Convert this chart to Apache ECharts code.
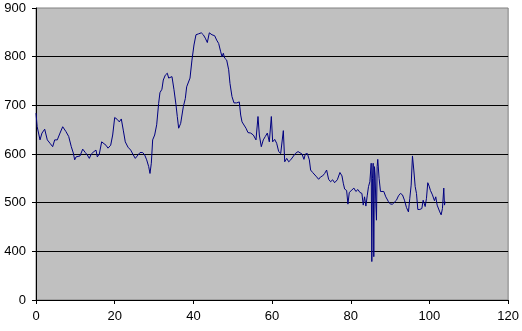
<!DOCTYPE html>
<html>
<head>
    <meta charset='utf-8'/>
    <title>Line chart</title>
    <style>
        body {
            margin: 0;
            padding: 0;
            background: #fff;
        }

        #chart {
            width: 522px;
            height: 331px;
        }
    </style>
    <script src="https://cdn.jsdelivr.net/npm/echarts@6/dist/echarts.min.js"></script>
</head>
<body>
<div id='chart'></div>
<script type="text/javascript">
    // values
    var xs = [0, 0.3, 1.02, 1.52, 2.21, 2.87, 3.56, 4.24, 4.75, 5.41, 6.1, 6.79, 7.62, 8.31, 8.97, 9.48, 9.83, 10.17, 10.5, 11.18,
        11.87, 12.53, 13.04, 13.55, 14.05, 14.74, 15.25, 15.58, 16.09, 16.26, 16.69, 17.1, 17.79, 18.3, 18.98, 19.49, 20.0, 20.66, 21.17, 21.68,
        22.18, 22.69, 23.38, 24.07, 24.73, 25.24, 25.92, 26.43, 27.11, 27.62, 28.13, 28.64, 28.97, 29.31, 29.65, 30.16, 30.67, 31.17, 31.5, 32.0,
        32.35, 32.86, 33.37, 33.72, 33.97, 34.56, 35.07, 35.58, 35.91, 36.26, 36.77, 37.44, 37.95, 38.29, 38.63, 39.14, 39.64, 40.15, 40.66, 41.34,
        42.01, 42.52, 43.03, 43.54, 44.05, 44.73, 45.41, 45.92, 46.43, 46.94, 47.28, 47.61, 47.95, 48.46, 48.97, 49.3, 49.81, 50.32, 51.0, 51.36,
        51.67, 52.02, 52.36, 52.86, 53.37, 53.88, 54.56, 55.24, 55.91, 56.42, 56.76, 57.26, 57.77, 58.28, 58.79, 59.3, 59.81, 60.15, 60.66, 61.17,
        61.68, 62.19, 62.86, 63.21, 63.72, 64.23, 64.74, 65.24, 65.92, 66.6, 67.1, 67.6, 68.1, 68.45, 68.96, 69.47, 69.8, 70.31, 70.81, 71.32,
        71.83, 72.34, 72.85, 73.36, 73.86, 74.37, 74.88, 75.39, 75.9, 76.58, 77.25, 77.76, 78.1, 78.44, 78.95, 79.28, 79.62, 80.28, 80.79, 81.3,
        81.81, 82.32, 82.83, 83.17, 83.5, 83.84, 84.18, 84.51, 84.85, 85.19, 85.35, 85.52, 85.69, 85.85, 86.02, 86.19, 86.36, 86.53, 86.7, 86.86,
        87.2, 87.55, 87.88, 88.39, 88.9, 89.58, 90.09, 90.6, 91.1, 91.61, 92.12, 92.63, 93.14, 93.65, 94.16, 94.66, 95.0, 95.35, 95.68, 96.02,
        96.37, 96.7, 97.04, 97.55, 98.06, 98.4, 98.91, 99.24, 99.57, 99.92, 100.25, 100.76, 101.27, 101.6, 101.95, 102.29, 102.62, 102.97, 103.3, 103.64,
        103.81, 103.99];
    var ys = [684, 656, 629, 643, 651, 629, 622, 615, 629, 629, 643, 656, 646, 636, 615, 602, 588, 594, 590, 596,
        610, 603, 598, 591, 600, 605, 608, 594, 600, 596, 625, 629, 618, 612, 618, 639, 675, 671, 666, 672,
        649, 625, 614, 608, 598, 591, 598, 603, 603, 598, 588, 574, 560, 581, 629, 639, 660, 704, 726, 733,
        752, 762, 766, 756, 753, 759, 732, 701, 677, 653, 663, 697, 714, 738, 735, 756, 793, 824, 845, 847,
        849, 845, 838, 829, 849, 845, 843, 834, 827, 810, 800, 807, 797, 793, 773, 745, 718, 705, 705, 703,
        707, 680, 666, 663, 653, 644, 643, 639, 629, 677, 639, 615, 629, 636, 643, 625, 677, 625, 630, 622,
        605, 601, 648, 584, 591, 584, 588, 590, 601, 605, 605, 600, 589, 600, 601, 588, 567, 562, 564, 553,
        548, 553, 555, 560, 567, 548, 543, 547, 541, 547, 562, 555, 540, 528, 525, 497, 521, 526, 530, 523,
        527, 521, 519, 495, 512, 493, 514, 533, 543, 581, 379, 550, 581, 389, 574, 557, 499, 464, 574, 589,
        550, 523, 519, 523, 512, 502, 497, 497, 500, 505, 514, 519, 516, 505, 490, 481, 509, 536, 596, 567,
        533, 519, 486, 486, 488, 505, 492, 509, 541, 534, 525, 516, 504, 512, 495, 493, 481, 475, 488, 530,
        495, 502];

    var yTicks = [300, 400, 500, 600, 700, 800, 900];
    var yTickLabels = ['0', '400', '500', '600', '700', '800', '900'];

    var points = xs.map(function (x, i) {
        return [x, ys[i]];
    });

    var labelFont = {
        color: '#000',
        fontFamily: 'Liberation Sans, Arial, sans-serif',
        fontSize: 13
    };

    var chart = echarts.init(document.getElementById('chart'), null, {renderer: 'canvas'});

    var option = {
        animation: false,
        grid: {
            left: 36,
            right: 13,
            top: 8,
            bottom: 31,
            show: true,
            backgroundColor: '#C0C0C0',
            borderColor: '#808080',
            borderWidth: 1
        },
        xAxis: {
            type: 'value',
            min: 0,
            max: 120,
            interval: 20,
            axisLine: {show: true, lineStyle: {color: '#000', width: 1}},
            axisTick: {show: true, length: 4, lineStyle: {color: '#000'}},
            axisLabel: Object.assign({margin: 10}, labelFont),
            splitLine: {show: false}
        },
        yAxis: {
            type: 'value',
            min: 300,
            max: 900,
            interval: 100,
            axisLine: {show: true, lineStyle: {color: '#000', width: 1}},
            axisTick: {show: true, length: 4, lineStyle: {color: '#000'}},
            axisLabel: Object.assign({
                margin: 10,
                formatter: function (v) {
                    var i = yTicks.indexOf(v);
                    return i >= 0 ? yTickLabels[i] : String(v);
                }
            }, labelFont),
            splitLine: {
                show: true,
                showMinLine: false,
                showMaxLine: false,
                lineStyle: {color: '#000', width: 1}
            }
        },
        series: [{
            type: 'line',
            data: points,
            showSymbol: false,
            symbol: 'none',
            smooth: false,
            lineStyle: {color: '#000080', width: 1},
            itemStyle: {color: '#000080'}
        }]
    };

    chart.setOption(option);
</script>
</body>
</html>
